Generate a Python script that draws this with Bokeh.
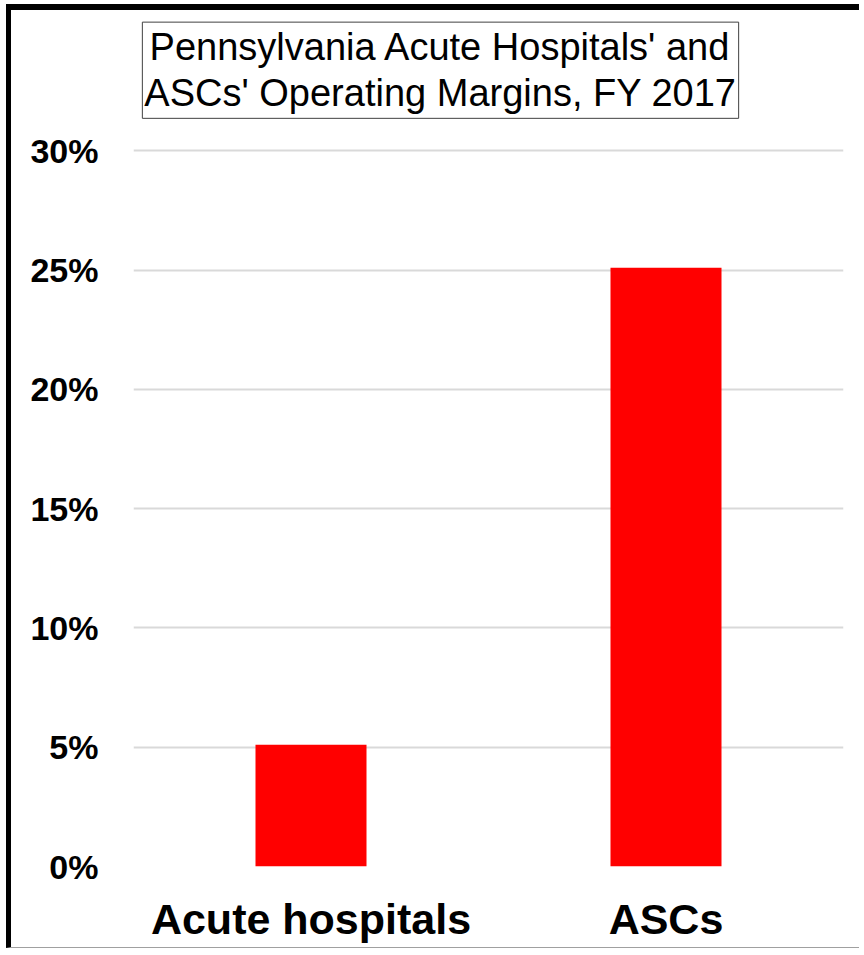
from bokeh.plotting import figure
from bokeh.models import FactorRange, Range1d, FixedTicker, PrintfTickFormatter, Label, ColumnDataSource
from bokeh.embed import file_html
from bokeh.resources import INLINE

categories = ["Acute hospitals", "ASCs"]
margins = [5.1, 25.1]
y_ticks = [0, 5, 10, 15, 20, 25, 30]
title_text = "Pennsylvania Acute Hospitals' and\nASCs' Operating Margins, FY 2017"

FONT = "Liberation Sans"

src = ColumnDataSource(dict(cat=categories, val=margins))

p = figure(
    x_range=FactorRange(*categories, range_padding=0),
    y_range=Range1d(0, 35.8),
    width=853, height=944,
    output_backend="svg", toolbar_location=None,
    min_border_left=122, min_border_right=21,
    min_border_top=2, min_border_bottom=88,
)
p.margin = (4, 0, 0, 6)
p.styles = {
    "border-left": "5px solid black",
    "border-top": "6px solid black",
    "border-bottom": "1px solid #a0a0a0",
}
p.outline_line_color = None
p.background_fill_color = "white"
p.border_fill_color = "white"

p.vbar(x="cat", top="val", width=0.3127, source=src, fill_color="#ff0000", line_color=None)

p.xgrid.grid_line_color = None
p.ygrid.grid_line_color = "#d9d9d9"
p.ygrid.grid_line_width = 2
p.yaxis.ticker = FixedTicker(ticks=y_ticks)
p.yaxis.formatter = PrintfTickFormatter(format="%d%%")

for ax in (p.xaxis, p.yaxis):
    ax.axis_line_color = None
    ax.major_tick_line_color = None
    ax.minor_tick_line_color = None
    ax.major_label_text_font = FONT
    ax.major_label_text_font_style = "bold"
    ax.major_label_text_color = "black"

p.yaxis.major_label_text_font_size = "34px"
p.yaxis.major_label_standoff = 29
p.xaxis.major_label_text_font_size = "43px"
p.xaxis.major_label_standoff = 22

title = Label(
    x=0.8648, y=33.38, text=title_text,
    text_font=FONT, text_font_size="38px", text_color="black",
    text_align="center", text_baseline="middle",
    text_line_height=1.1,
    border_line_color="#404040", border_line_width=1,
    background_fill_color="white",
    padding=(2, 4),
)
p.add_layout(title)

open("out.html", "w").write(file_html(p, INLINE))
